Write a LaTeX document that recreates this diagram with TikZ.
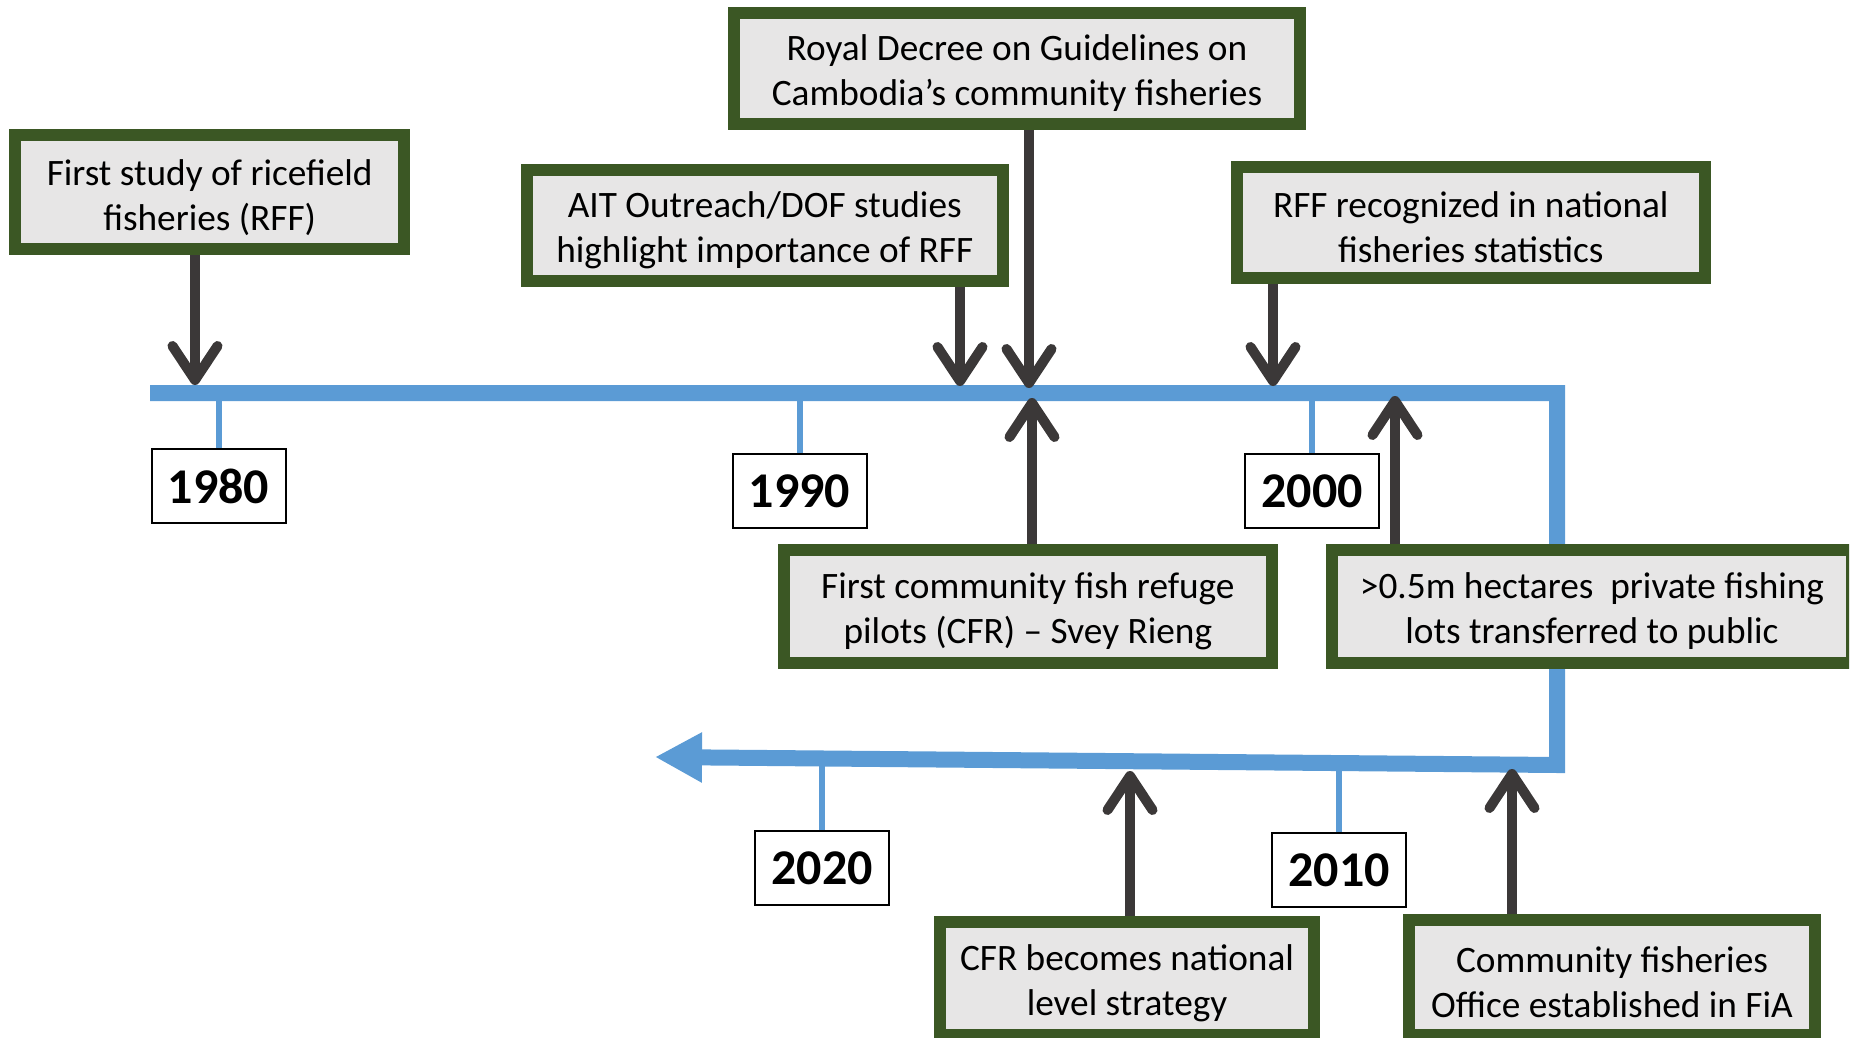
\documentclass[tikz,border=0pt]{standalone}
\usepackage{fontspec}
\setmainfont{Carlito}
\usetikzlibrary{arrows.meta}
\definecolor{lineblue}{RGB}{91,155,213}
\definecolor{evgreen}{RGB}{59,87,36}
\definecolor{evgray}{RGB}{231,230,230}
\definecolor{arrowgray}{RGB}{59,56,56}
\newcommand\evstrut{\rule{0pt}{36pt}}

\begin{document}
\begin{tikzpicture}[x=1pt,y=-1pt,line join=miter,
    event/.style={draw=evgreen,line width=12pt,fill=evgray,align=center,inner sep=0pt,font=\fontsize{37.3}{45}\selectfont},
    year/.style={draw,line width=2pt,fill=white,minimum width=134pt,minimum height=74pt,inner sep=0pt,font=\fontsize{50}{60}\selectfont\bfseries},
    tick/.style={lineblue,line width=6pt},
    evarrow/.style={arrowgray,line width=10pt,-{Straight Barb[round,length=34pt,width=45pt]}}]
    \path[use as bounding box](0,0)rectangle(1856,1038);
    \clip(0,0)rectangle(1849,1038);
    \path(0,393)coordinate(tl)(0,764)coordinate(bl)
    (195,385)coordinate(t1)(960,386)coordinate(t2)(1029,388)coordinate(t3)(1273,386)coordinate(t4)
    (1032,398)coordinate(t5)(1395,396)coordinate(t6)(1130,771)coordinate(t7)(1512,769)coordinate(t8);
    % years and ticks
    \foreach \y/\px/\py in{1980/218.5/486,1990/799.5/491,2000/1312/491,2020/822/868,2010/1339/870}
      \node[year](y\y)at(\px,\py){\y};
    \foreach \y in{1980,1990,2000}\draw[tick](y\y.north)--(y\y.north|-tl);
    \foreach \y in{2010,2020}\draw[tick](y\y.north)--(y\y.north|-bl);
    % timeline
    \draw[lineblue,line width=16pt,-{Triangle[length=47pt,width=47pt]}](150,393)--(1557,393)--(1557,765)--(655,757);
    % events
    \node[event,minimum width=388.7pt,minimum height=113.7pt](b1)at(209.7,192.2){\evstrut First study of ricefield\\fisheries (RFF)};
    \node[event,minimum width=475.5pt,minimum height=110pt](b2)at(764.8,225.5){\evstrut AIT Outreach/DOF studies\\highlight importance of RFF};
    \node[event,minimum width=566pt,minimum height=111pt](b3)at(1017,68.5){\evstrut Royal Decree on Guidelines on\\Cambodia's community fisheries};
    \node[event,minimum width=467.5pt,minimum height=111pt](b4)at(1470.8,222.5){\evstrut RFF recognized in national\\fisheries statistics};
    \node[event,minimum width=488.3pt,minimum height=113.5pt](b5)at(1027.9,606.3){\evstrut First community fish refuge\\pilots (CFR) – Svey Rieng};
    \node[event,minimum width=520pt,minimum height=113pt](b6)at(1592,606.5){\evstrut>0.5m hectares~ private fishing\\lots transferred to public};
    \node[event,minimum width=374pt,minimum height=113pt](b7)at(1127,978.5){\evstrut CFR becomes national\\level strategy};
    \node[event,minimum width=406pt,minimum height=115pt](b8)at(1612,977.5){\evstrut Community fisheries\\Office established in FiA};
    \foreach \b/\t in{b1/t1,b2/t2,b3/t3,b4/t4}\draw[evarrow](\b.south-|\t)--(\t);
    \foreach \b/\t in{b5/t5,b6/t6,b7/t7,b8/t8}\draw[evarrow](\b.north-|\t)--(\t);
\end{tikzpicture}
\end{document}
